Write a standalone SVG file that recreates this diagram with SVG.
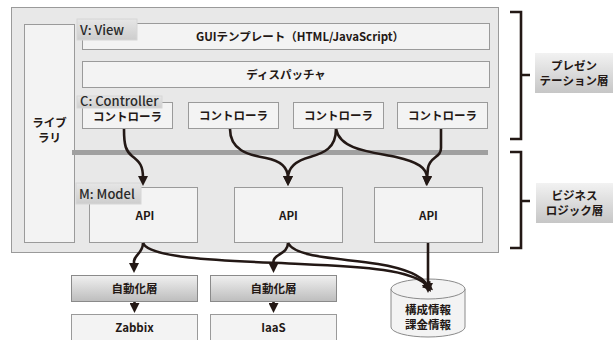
<svg xmlns="http://www.w3.org/2000/svg" width="616" height="340" viewBox="0 0 616 340">
  <defs>
    <linearGradient id="tabGrad" x1="0" y1="0" x2="0" y2="1">
      <stop offset="0" stop-color="#e6e6e6"/>
      <stop offset="1" stop-color="#cdcdcd"/>
    </linearGradient>
    <linearGradient id="layerGrad" x1="0" y1="0" x2="0" y2="1">
      <stop offset="0" stop-color="#f0f0f0"/>
      <stop offset="1" stop-color="#bdbdbd"/>
    </linearGradient>
    <linearGradient id="sideGrad" x1="0" y1="0" x2="0" y2="1">
      <stop offset="0" stop-color="#f2f2f2"/>
      <stop offset="1" stop-color="#c6c6c6"/>
    </linearGradient>
    <!-- arrowhead that reaches 8px past the end of its line -->
    <marker id="tip" viewBox="-2 -5 10 10" refX="0" refY="0" markerWidth="10" markerHeight="10" markerUnits="userSpaceOnUse" orient="auto">
      <path d="M-2,-5 L8,0 L-2,5 Z" fill="#231815"/>
    </marker>
  </defs>
  <style>
    text { font-family: "Noto Sans CJK JP", "Noto Sans", sans-serif; font-weight: 700; fill: #231815; text-anchor: middle; }
    .t11 { font-size: 11.5px; }
    .tab { font-size: 13px; font-weight: 500; text-anchor: start; fill: #2a2a2a; }
    .box { fill: #f3f3f3; stroke: #9a9a9a; stroke-width: 1; }
    .tabbox { fill: url(#tabGrad); stroke: #d6d6d6; stroke-width: 1; }
    .layer { fill: url(#layerGrad); stroke: #8a8a8a; stroke-width: 1; }
    .side { fill: url(#sideGrad); stroke: none; }
    .conn { fill: none; stroke: #231815; stroke-width: 2.6; stroke-linecap: butt; }
    .brace { fill: none; stroke: #231815; stroke-width: 2.6; }
  </style>

  <!-- application frame -->
  <g id="frame">
    <rect x="11.5" y="7.5" width="487" height="245" fill="#e8e8e8" stroke="#9a9a9a"/>
  </g>

  <!-- library column -->
  <g id="library">
    <rect class="box" x="24.5" y="24.5" width="50" height="218"/>
    <text class="t11" x="49.5" y="127">ライブ</text>
    <text class="t11" x="49.5" y="142">ラリ</text>
  </g>

  <!-- view layer -->
  <g id="gui-template">
    <rect class="box" x="82.5" y="23.5" width="407" height="26"/>
    <text class="t11" x="300" y="40.5">GUIテンプレート（HTML/JavaScript）</text>
  </g>
  <g id="view-tab">
    <rect class="tabbox" x="77" y="19" width="60" height="21"/>
    <text class="tab" x="80" y="34.5">V: View</text>
  </g>

  <g id="dispatcher">
    <rect class="box" x="82.5" y="61.5" width="407" height="26"/>
    <text class="t11" x="286" y="78.5">ディスパッチャ</text>
  </g>

  <!-- controllers -->
  <g id="controller-1">
    <rect class="box" x="82.5" y="102.5" width="90" height="26"/>
    <text class="t11" x="127.5" y="121">コントローラ</text>
  </g>
  <g id="controller-tab">
    <rect class="tabbox" x="77" y="96" width="85" height="12"/>
    <text class="tab" x="80" y="105.5">C: Controller</text>
  </g>
  <g id="controller-2">
    <rect class="box" x="188.5" y="102.5" width="90" height="26"/>
    <text class="t11" x="233.5" y="120">コントローラ</text>
  </g>
  <g id="controller-3">
    <rect class="box" x="293.5" y="102.5" width="90" height="26"/>
    <text class="t11" x="338.5" y="120">コントローラ</text>
  </g>
  <g id="controller-4">
    <rect class="box" x="397.5" y="102.5" width="90" height="26"/>
    <text class="t11" x="442.5" y="120">コントローラ</text>
  </g>

  <!-- layer divider -->
  <g id="divider">
    <rect x="72" y="150" width="416" height="5" fill="#a0a0a0"/>
  </g>

  <!-- model APIs -->
  <g id="api-1">
    <rect class="box" x="89.5" y="187.5" width="108" height="55"/>
    <text class="t11" x="145" y="220">API</text>
  </g>
  <g id="model-tab">
    <rect class="tabbox" x="76" y="183" width="65" height="21"/>
    <text class="tab" x="79" y="198.5">M: Model</text>
  </g>
  <g id="api-2">
    <rect class="box" x="234.5" y="187.5" width="108" height="55"/>
    <text class="t11" x="288.5" y="220">API</text>
  </g>
  <g id="api-3">
    <rect class="box" x="374.5" y="187.5" width="108" height="55"/>
    <text class="t11" x="428.5" y="220">API</text>
  </g>

  <!-- automation layers and back ends -->
  <g id="automation-1">
    <rect class="layer" x="71.5" y="275.5" width="126" height="26"/>
    <text class="t11" x="134.5" y="292.5">自動化層</text>
  </g>
  <g id="automation-2">
    <rect class="layer" x="210.5" y="275.5" width="126" height="26"/>
    <text class="t11" x="273.5" y="292.5">自動化層</text>
  </g>
  <g id="zabbix">
    <rect class="box" x="71.5" y="314.5" width="126" height="30"/>
    <text class="t11" x="134.5" y="332">Zabbix</text>
  </g>
  <g id="iaas">
    <rect class="box" x="210.5" y="314.5" width="126" height="30"/>
    <text class="t11" x="273.5" y="332">IaaS</text>
  </g>

  <!-- configuration / billing store -->
  <g id="datastore">
    <path d="M391,289 L391,327 A37,10 0 0 0 465,327 L465,289" fill="#f3f3f3" stroke="#8a8a8a"/>
    <ellipse cx="428" cy="289" rx="37" ry="10" fill="#f3f3f3" stroke="#8a8a8a"/>
    <text class="t11" x="428" y="314">構成情報</text>
    <text class="t11" x="428" y="329">課金情報</text>
  </g>

  <!-- connectors -->
  <g id="connectors">
    <path class="conn" marker-end="url(#tip)" d="M124,129 C124,146 126,151 132,156 C140,162 143,166 143,178"/>
    <path class="conn" marker-end="url(#tip)" d="M230,129 C230,150 248,155 266,158 C282,161 288,168 288,178"/>
    <path class="conn" marker-end="url(#tip)" d="M336,129 C336,148 324,153 310,157 C295,161 288,168 288,178"/>
    <path class="conn" marker-end="url(#tip)" d="M336,129 C340,150 372,152 396,157 C418,162 427,168 427,178"/>
    <path class="conn" marker-end="url(#tip)" d="M441,129 L441,148 C441,158 430,156 428,168 L427,178"/>

    <path class="conn" marker-end="url(#tip)" d="M143,243 C143,253 135,254 134,261 L134,265"/>
    <path class="conn" marker-end="url(#tip)" d="M143,243 C150,260 240,261 300,264 C370,267 410,270 427,285"/>
    <path class="conn" marker-end="url(#tip)" d="M288,243 C288,254 274,254 273.5,261 L273.5,265"/>
    <path class="conn" marker-end="url(#tip)" d="M288,243 C296,258 340,258 378,264 C408,269 422,276 427,285"/>
    <path class="conn" marker-end="url(#tip)" d="M428,243 L428,285"/>

    <path class="conn" marker-end="url(#tip)" d="M134.5,302 L134.5,305"/>
    <path class="conn" marker-end="url(#tip)" d="M273.5,302 L273.5,305"/>
  </g>

  <!-- tier braces -->
  <g id="presentation-brace">
    <path class="brace" d="M510,12 L521,12 L521,139 L510,139 M521,75 L530,75"/>
  </g>
  <g id="presentation-label">
    <rect class="side" x="535" y="53" width="78" height="40"/>
    <text class="t11" x="574" y="70">プレゼン</text>
    <text class="t11" x="574" y="85">テーション層</text>
  </g>
  <g id="business-brace">
    <path class="brace" d="M510,152 L521,152 L521,248 L510,248 M521,201 L530,201"/>
  </g>
  <g id="business-label">
    <rect class="side" x="536" y="183" width="77" height="40"/>
    <text class="t11" x="574.5" y="200">ビジネス</text>
    <text class="t11" x="574.5" y="215">ロジック層</text>
  </g>
</svg>
